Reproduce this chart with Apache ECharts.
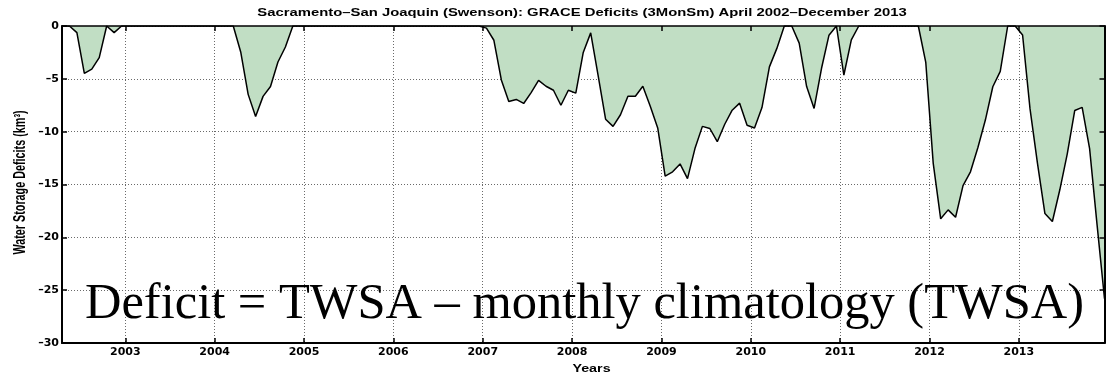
<!DOCTYPE html>
<html>
<head>
<meta charset="utf-8">
<title>GRACE Deficits</title>
<script src="https://cdn.jsdelivr.net/npm/echarts@6/dist/echarts.min.js"></script>
<style>
  html, body { margin: 0; padding: 0; background: #ffffff; }
  #chart { width: 1109px; height: 374px; }
</style>
</head>
<body>
<div id="chart"></div>
<script>
// Monthly GRACE total water storage deficits (km^3), Sacramento–San Joaquin basin,
// 3-month smoothed. Months with no deficit are held at 0.
const firstYear = 2002;
const firstMonth = 4; // series starts in April 2002

const deficit2002 = [0, 0, -0.63, -4.48, -4.08, -3.0, 0, -0.63, 0];
const deficit2003 = [0, 0, 0, 0, 0, 0, 0, 0, 0, 0, 0, 0];
const deficit2004 = [0, 0, 0, -2.46, -6.47, -8.56, -6.66, -5.72, -3.41, -1.99, 0, 0];
const deficit2005 = [0, 0, 0, 0, 0, 0, 0, 0, 0, 0, 0, 0];
const deficit2006 = [0, 0, 0, 0, 0, 0, 0, 0, 0, 0, 0, 0];
const deficit2007 = [-0.2, -1.35, -5.1, -7.15, -6.95, -7.33, -6.3, -5.15, -5.7, -6.08, -7.5, -6.08];
const deficit2008 = [-6.35, -2.5, -0.65, -4.7, -8.82, -9.5, -8.4, -6.65, -6.65, -5.7, -7.6, -9.65];
const deficit2009 = [-14.2, -13.8, -13.05, -14.45, -11.6, -9.5, -9.7, -10.95, -9.3, -7.97, -7.3, -9.4];
const deficit2010 = [-9.65, -7.72, -3.87, -2.12, 0, 0, -1.62, -5.73, -7.8, -4.0, -0.87, 0];
const deficit2011 = [-4.64, -1.32, 0, 0, 0, 0, 0, 0, 0, 0, 0, -3.45];
const deficit2012 = [-13.0, -18.25, -17.4, -18.1, -15.1, -13.8, -11.5, -8.9, -5.75, -4.3, 0, 0];
const deficit2013 = [-0.85, -7.85, -13.0, -17.75, -18.5, -15.5, -12.1, -8.0, -7.7, -11.6, -18.8, -25.8];

const yearTicks = [2003, 2004, 2005, 2006, 2007, 2008, 2009, 2010, 2011, 2012, 2013];
const deficitMin = -30;
const deficitMax = 0;
const deficitStep = 5;

const titleText = 'Sacramento\u2013San Joaquin (Swenson): GRACE Deficits (3MonSm) April 2002\u2013December 2013';
const xAxisTitle = 'Years';
const yAxisTitle = 'Water Storage Deficits (km\u00B3)';
const noteText = 'Deficit = TWSA \u2013 monthly climatology (TWSA)';

// Place each monthly value at the middle of its month (decimal years).
const deficitsByYear = [deficit2002, deficit2003, deficit2004, deficit2005, deficit2006, deficit2007,
  deficit2008, deficit2009, deficit2010, deficit2011, deficit2012, deficit2013];
const points = [];
deficitsByYear.forEach(function (vals, i) {
  const year = firstYear + i;
  const startM = i === 0 ? firstMonth : 1;
  vals.forEach(function (v, j) {
    points.push([year + (startM + j - 0.5) / 12, v]);
  });
});
const xMin = points[0][0];
const xMax = points[points.length - 1][0];

const tickFont = { fontFamily: 'DejaVu Sans', fontWeight: 'bold', fontSize: 11, color: '#000' };
const gridLine = { show: true, lineStyle: { color: '#6a6a6a', width: 1, type: [1, 2] } };

const chart = echarts.init(document.getElementById('chart'), null, { renderer: 'canvas' });
chart.setOption({
  animation: false,
  backgroundColor: '#ffffff',
  grid: { left: 62, right: 4.5, top: 26, bottom: 31, containLabel: false, outerBoundsMode: 'none' },
  xAxis: [{
    type: 'value', position: 'bottom', min: xMin, max: xMax,
    axisLine: { show: true, onZero: false, lineStyle: { color: '#000', width: 2 } },
    axisTick: { show: true, inside: true, length: 5, customValues: yearTicks, lineStyle: { color: '#000', width: 1.5 } },
    axisLabel: Object.assign({ show: true, margin: 4, customValues: yearTicks, formatter: function (v) { return String(Math.round(v)); } }, tickFont),
    splitLine: gridLine
  }, {
    type: 'value', position: 'top', min: xMin, max: xMax, z: 5,
    axisLine: { show: true, onZero: false, lineStyle: { color: '#000', width: 1.5 } },
    axisTick: { show: true, inside: true, length: 5, customValues: yearTicks, lineStyle: { color: '#000', width: 1.5 } },
    axisLabel: { show: false, customValues: yearTicks },
    splitLine: { show: false }
  }],
  yAxis: [{
    type: 'value', position: 'left', min: deficitMin, max: deficitMax, interval: deficitStep,
    axisLine: { show: true, onZero: false, lineStyle: { color: '#000', width: 2 } },
    axisTick: { show: true, inside: true, length: 5, lineStyle: { color: '#000', width: 1.5 } },
    axisLabel: Object.assign({ show: true, margin: 3, formatter: function (v) { return v < 0 ? '\u2013' + Math.abs(v) : String(v); } }, tickFont),
    splitLine: gridLine
  }, {
    type: 'value', position: 'right', min: deficitMin, max: deficitMax, interval: deficitStep, z: 5,
    axisLine: { show: true, onZero: false, lineStyle: { color: '#000', width: 2 } },
    axisTick: { show: true, inside: true, length: 5, lineStyle: { color: '#000', width: 1.5 } },
    axisLabel: { show: false },
    splitLine: { show: false }
  }],
  series: [{
    type: 'line',
    xAxisIndex: 0, yAxisIndex: 0,
    data: points,
    symbol: 'none', showSymbol: false,
    lineStyle: { color: '#000', width: 1.5 },
    areaStyle: { color: '#c1dec4', opacity: 1 },
    z: 2
  }],
  graphic: [{
    type: 'text', x: 582, y: 13.3, scaleX: 1.35, z: 10,
    style: { text: titleText, font: 'bold 11px "Liberation Sans"', fill: '#000', textAlign: 'center', textVerticalAlign: 'middle' }
  }, {
    type: 'text', x: 591.5, y: 368.5, scaleX: 1.3, z: 10,
    style: { text: xAxisTitle, font: 'bold 11px "Liberation Sans"', fill: '#000', textAlign: 'center', textVerticalAlign: 'middle' }
  }, {
    type: 'text', x: 21, y: 182.5, rotation: Math.PI / 2, scaleY: 1.5, z: 10,
    style: { text: yAxisTitle, font: 'bold 10.8px "Liberation Sans"', fill: '#000', textAlign: 'center', textVerticalAlign: 'middle' }
  }, {
    type: 'text', x: 584.5, y: 304.5, z: 10,
    style: { text: noteText, font: '50.5px "Liberation Serif"', fill: '#000', textAlign: 'center', textVerticalAlign: 'middle' }
  }]
});
</script>
</body>
</html>
